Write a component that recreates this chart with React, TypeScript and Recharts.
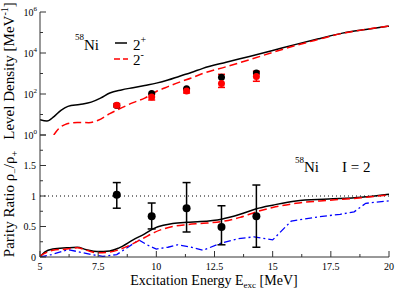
import React from 'react';
import {
  ComposedChart,
  ErrorBar,
  Label,
  Line,
  ReferenceLine,
  Scatter,
  XAxis,
  YAxis,
} from 'recharts';

const W = 395;
const H = 289;
const FONT = '"Liberation Serif", "Times New Roman", serif';
const FRAME = '#333';

// axis ticks
const energyTicks = [5, 6.25, 7.5, 8.75, 10, 11.25, 12.5, 13.75, 15, 16.25, 17.5, 18.75, 20];
const energyLabels = [5, 7.5, 10, 12.5, 15, 17.5, 20];
const densityTicks = [1, 10, 100, 1000, 10000, 100000, 1000000];
const ratioTicks = [0, 0.25, 0.5, 0.75, 1, 1.25, 1.5, 1.75, 2];
const ratioLabels = [0, 0.5, 1, 1.5];

// level density, 2+ (MeV^-1)
const plusEnergy = [5, 5.3, 5.6, 5.9, 6.2, 6.7, 7.2, 7.6, 8, 8.5, 9, 9.5, 10, 10.5, 11, 11.5, 12, 13, 14, 15, 16, 17, 18, 19, 20];
const plusDensity = [5.6, 4.8, 7.9, 16, 25, 31, 40, 63, 112, 158, 204, 263, 339, 479, 741, 1120, 1780, 3550, 6760, 13200, 26300, 50100, 93300, 141000, 204000];

// level density, 2- (MeV^-1)
const minusEnergy = [5.59, 5.8, 6.07, 6.6, 7.1, 7.5, 8, 8.5, 9, 9.5, 10, 10.5, 11, 11.5, 12, 13, 14, 15, 16, 17, 18, 19, 20];
const minusDensity = [1, 2, 3.2, 4.1, 4, 5.2, 11, 21, 38, 63, 132, 229, 380, 603, 1000, 2140, 4680, 10700, 23400, 46800, 91200, 141000, 204000];

// experimental points
const expEnergy = [8.3, 9.8, 11.3, 12.8, 14.3];
const expPlus = [27.5, 107, 178, 661, 1050];
const expMinus = [28, 72, 141, 324, 708];
const expMinusLow = [23, 51, 112, 209, 417];
const expMinusHigh = [34, 100, 178, 912, 1290];

// parity ratio
const ratioEnergy = [5, 5.2, 5.55, 6.15, 6.6, 7, 7.45, 8, 8.4, 9, 9.5, 9.9, 10.3, 10.7, 11.3, 11.9, 12.8, 13.6, 14.3, 15, 16, 17.4, 18.8, 20];
const ratioSolid = [0, 0.08, 0.13, 0.15, 0.16, 0.12, 0.09, 0.1, 0.15, 0.28, 0.38, 0.47, 0.52, 0.55, 0.57, 0.58, 0.62, 0.7, 0.79, 0.85, 0.92, 0.95, 0.98, 1.03];
const ratioDashed = [0.02, 0.06, 0.11, 0.13, 0.15, 0.11, 0.07, 0.08, 0.12, 0.22, 0.32, 0.4, 0.46, 0.5, 0.53, 0.55, 0.58, 0.65, 0.74, 0.81, 0.88, 0.93, 0.97, 1.02];
const blueEnergy = [5, 5.5, 6.2, 6.6, 7.2, 7.7, 8.3, 8.7, 9.25, 9.6, 10, 10.5, 10.9, 11.5, 12, 12.8, 13.5, 14.2, 15, 15.8, 17, 17.9, 18.5, 19, 20];
const ratioDashDot = [0, 0.04, 0.12, 0.09, 0.04, 0.01, 0.04, 0.14, 0.28, 0.2, 0.13, 0.16, 0.2, 0.16, 0.11, 0.23, 0.3, 0.33, 0.28, 0.59, 0.66, 0.7, 0.74, 0.88, 0.92];
const expRatio = [1.02, 0.67, 0.8, 0.49, 0.67];
const expRatioLow = [0.8, 0.46, 0.41, 0.2, 0.16];
const expRatioHigh = [1.22, 0.885, 1.22, 0.84, 1.18];

const zip = (xs: number[], ys: number[]) => xs.map((x, i) => ({ x, y: ys[i] }));
const withErr = (xs: number[], ys: number[], lo: number[], hi: number[]) =>
  xs.map((x, i) => ({ x, y: ys[i], err: [ys[i] - lo[i], hi[i] - ys[i]] }));

type TickProps = { x: number; y: number; payload: { value: number } };

// ticks point into the plot
const energyTick = (side: 'top' | 'bottom', withLabel: boolean) => (p: TickProps) => {
  const major = energyLabels.includes(p.payload.value);
  const dir = side === 'bottom' ? -1 : 1;
  return (
    <g>
      <line x1={p.x} x2={p.x} y1={p.y} y2={p.y + dir * (major ? 6 : 3)} stroke={FRAME} />
      {withLabel && major && (
        <text x={p.x} y={p.y + 13} textAnchor='middle' fontSize={10} fontFamily={FONT} fill='#000'>
          {p.payload.value}
        </text>
      )}
    </g>
  );
};

const densityTick = (side: 'left' | 'right') => (p: TickProps) => {
  const exp = Math.round(Math.log10(p.payload.value));
  const major = exp % 2 === 0;
  const dir = side === 'left' ? 1 : -1;
  return (
    <g>
      <line x1={p.x} x2={p.x + dir * (major ? 6 : 3)} y1={p.y} y2={p.y} stroke={FRAME} />
      {side === 'left' && major && (
        <text x={p.x - 3} y={p.y + 4} textAnchor='end' fontSize={10} fontFamily={FONT} fill='#000'>
          <tspan>10</tspan>
          <tspan dy={-5} fontSize={7}>{exp}</tspan>
        </text>
      )}
    </g>
  );
};

const ratioTick = (side: 'left' | 'right') => (p: TickProps) => {
  const v = p.payload.value;
  const major = Math.abs(v * 2 - Math.round(v * 2)) < 1e-6;
  const dir = side === 'left' ? 1 : -1;
  return (
    <g>
      <line x1={p.x} x2={p.x + dir * (major ? 6 : 3)} y1={p.y} y2={p.y} stroke={FRAME} />
      {side === 'left' && ratioLabels.includes(v) && (
        <text x={p.x - 4} y={p.y + 3.5} textAnchor='end' fontSize={10} fontFamily={FONT} fill='#000'>
          {v}
        </text>
      )}
    </g>
  );
};

const axisCommon = {
  tickSize: 0,
  tickMargin: 0,
  interval: 0 as const,
  axisLine: { stroke: FRAME },
  tickLine: false,
  allowDataOverflow: true,
};

const dot = (color: string, r: number) => (p: any) => (
  <circle cx={p.cx} cy={p.cy} r={r} fill={color} />
);

export default function App() {
  return (
    <div style={{ position: 'absolute', left: 0, top: 0, width: W, height: H, background: '#fff' }}>
      {/* top panel: level density */}
      <div style={{ position: 'absolute', left: 0, top: 0 }}>
        <ComposedChart width={W} height={H} margin={{ top: 12, right: 6, bottom: H - 135, left: 0 }}>
          <XAxis xAxisId='b' dataKey='x' type='number' domain={[5, 20]} ticks={energyTicks} height={0} tick={energyTick('bottom', false)} {...axisCommon} />
          <XAxis xAxisId='t' dataKey='x' type='number' orientation='top' domain={[5, 20]} ticks={energyTicks} height={0} tick={energyTick('top', false)} {...axisCommon} />
          <YAxis yAxisId='l' type='number' scale='log' domain={[1, 1000000]} ticks={densityTicks} width={40} tick={densityTick('left')} {...axisCommon}>
            <Label
              content={() => (
                <text transform='translate(14,71) rotate(-90)' textAnchor='middle' fontSize={15} fontFamily={FONT} fill='#000'>
                  <tspan>Level Density [MeV</tspan>
                  <tspan dy={-6} fontSize={10}>-1</tspan>
                  <tspan dy={6}>]</tspan>
                </text>
              )}
            />
          </YAxis>
          <YAxis yAxisId='r' type='number' orientation='right' scale='log' domain={[1, 1000000]} ticks={densityTicks} width={0} tick={densityTick('right')} {...axisCommon} />
          <Line xAxisId='b' yAxisId='l' data={zip(plusEnergy, plusDensity)} dataKey='y' type='monotone' stroke='#000' strokeWidth={1.5} dot={false} isAnimationActive={false} />
          <Line xAxisId='b' yAxisId='l' data={zip(minusEnergy, minusDensity)} dataKey='y' type='monotone' stroke='#ff0000' strokeWidth={1.5} strokeDasharray='8 4' dot={false} isAnimationActive={false} />
          <Scatter xAxisId='b' yAxisId='l' data={zip(expEnergy, expPlus)} dataKey='y' shape={dot('#000', 3.5)} isAnimationActive={false} />
          <Scatter xAxisId='b' yAxisId='l' data={withErr(expEnergy, expMinus, expMinusLow, expMinusHigh)} dataKey='y' shape={dot('#ff0000', 3.5)} isAnimationActive={false}>
            <ErrorBar dataKey='err' direction='y' width={3.5} stroke='#ff0000' strokeWidth={1.5} />
          </Scatter>
        </ComposedChart>
      </div>

      {/* bottom panel: parity ratio */}
      <div style={{ position: 'absolute', left: 0, top: 0 }}>
        <ComposedChart width={W} height={H} margin={{ top: 135, right: 6, bottom: 0, left: 0 }}>
          <XAxis xAxisId='b' dataKey='x' type='number' domain={[5, 20]} ticks={energyTicks} height={32} tick={energyTick('bottom', true)} {...axisCommon}>
            <Label
              content={() => (
                <text x={214} y={285} textAnchor='middle' fontSize={14} fontFamily={FONT} fill='#000'>
                  <tspan>Excitation Energy E</tspan>
                  <tspan dy={3} fontSize={9}>exc</tspan>
                  <tspan dy={-3}> [MeV]</tspan>
                </text>
              )}
            />
          </XAxis>
          <XAxis xAxisId='t' dataKey='x' type='number' orientation='top' domain={[5, 20]} ticks={energyTicks} height={0} tick={energyTick('top', false)} {...axisCommon} />
          <YAxis yAxisId='l' type='number' domain={[0, 2]} ticks={ratioTicks} width={40} tick={ratioTick('left')} {...axisCommon}>
            <Label
              content={() => (
                <text transform='translate(14,204) rotate(-90)' textAnchor='middle' fontSize={15} fontFamily={FONT} fill='#000'>
                  <tspan>Parity Ratio ρ</tspan>
                  <tspan dy={4} fontSize={10}>−</tspan>
                  <tspan dy={-4}>/ρ</tspan>
                  <tspan dy={4} fontSize={10}>+</tspan>
                </text>
              )}
            />
          </YAxis>
          <YAxis yAxisId='r' type='number' orientation='right' domain={[0, 2]} ticks={ratioTicks} width={0} tick={ratioTick('right')} {...axisCommon} />
          <ReferenceLine xAxisId='b' yAxisId='l' y={1} stroke='#000' strokeDasharray='1 3' />
          <Line xAxisId='b' yAxisId='l' data={zip(blueEnergy, ratioDashDot)} dataKey='y' type='linear' stroke='#0000ff' strokeWidth={1.3} strokeDasharray='7 3 2 3' dot={false} isAnimationActive={false} />
          <Line xAxisId='b' yAxisId='l' data={zip(ratioEnergy, ratioSolid)} dataKey='y' type='monotone' stroke='#000' strokeWidth={1.5} dot={false} isAnimationActive={false} />
          <Line xAxisId='b' yAxisId='l' data={zip(ratioEnergy, ratioDashed)} dataKey='y' type='monotone' stroke='#ff0000' strokeWidth={1.5} strokeDasharray='8 4' dot={false} isAnimationActive={false} />
          <Scatter xAxisId='b' yAxisId='l' data={withErr(expEnergy, expRatio, expRatioLow, expRatioHigh)} dataKey='y' shape={dot('#000', 4)} isAnimationActive={false}>
            <ErrorBar dataKey='err' direction='y' width={4} stroke='#000' strokeWidth={1.5} />
          </Scatter>
        </ComposedChart>
      </div>

      {/* annotations */}
      <svg width={W} height={H} style={{ position: 'absolute', left: 0, top: 0, pointerEvents: 'none' }}>
        <g fontFamily={FONT} fill='#000'>
          <text x={75} y={50} fontSize={15}>
            <tspan fontSize={9} dy={-10}>58</tspan>
            <tspan dy={10}>Ni</tspan>
          </text>
          <line x1={115} x2={127} y1={43} y2={43} stroke='#000' strokeWidth={1.5} />
          <text x={133} y={50} fontSize={15}>
            <tspan>2</tspan>
            <tspan dy={-7} fontSize={10}>+</tspan>
          </text>
          <line x1={114} x2={128} y1={59} y2={59} stroke='#ff0000' strokeWidth={1.5} strokeDasharray='6 3' />
          <text x={133} y={65} fontSize={15}>
            <tspan>2</tspan>
            <tspan dy={-7} fontSize={10}>-</tspan>
          </text>
          <text x={295} y={172} fontSize={15}>
            <tspan fontSize={9} dy={-9}>58</tspan>
            <tspan dy={9}>Ni</tspan>
          </text>
          <text x={342} y={172} fontSize={15}>I = 2</text>
        </g>
      </svg>
    </div>
  );
}
